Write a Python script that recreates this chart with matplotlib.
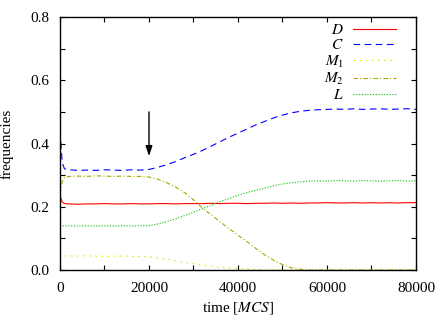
import numpy as np
import matplotlib
matplotlib.use('Agg')
import matplotlib.pyplot as plt
from matplotlib.ticker import MultipleLocator, FormatStrFormatter

plt.rcParams['font.family'] = ['Liberation Serif', 'DejaVu Serif']
plt.rcParams['mathtext.fontset'] = 'stix'
plt.rcParams['font.size'] = 11

# time in MCS
t = [0, 500, 1000, 2000, 4000, 6000, 8000, 10000, 12000, 14000, 16000, 18000,
     20000, 22000, 24000, 26000, 28000, 30000, 32000, 34000, 36000, 38000,
     40000, 42000, 44000, 46000, 48000, 50000, 52000, 54000, 56000, 58000,
     60000, 62000, 64000, 66000, 68000, 70000, 72000, 74000, 76000, 78000, 80000]

D = [0.235, 0.215, 0.210, 0.209, 0.208, 0.209, 0.209, 0.210, 0.209, 0.209, 0.210, 0.209,
     0.209, 0.210, 0.210, 0.209, 0.210, 0.210, 0.210, 0.211, 0.210, 0.211,
     0.211, 0.210, 0.211, 0.211, 0.212, 0.211, 0.212, 0.211, 0.212, 0.212,
     0.213, 0.212, 0.212, 0.213, 0.212, 0.213, 0.212, 0.213, 0.212, 0.213, 0.213]

C = [0.440, 0.340, 0.320, 0.317, 0.315, 0.316, 0.315, 0.317, 0.316, 0.315, 0.317, 0.316,
     0.318, 0.325, 0.333, 0.343, 0.355, 0.366, 0.378, 0.392, 0.406, 0.420,
     0.433, 0.446, 0.459, 0.470, 0.481, 0.490, 0.497, 0.502, 0.505, 0.507,
     0.508, 0.509, 0.508, 0.510, 0.508, 0.509, 0.510, 0.508, 0.509, 0.510, 0.508]

M1 = [0.055, 0.047, 0.045, 0.044, 0.044, 0.045, 0.044, 0.043, 0.044, 0.044, 0.043, 0.043,
      0.042, 0.038, 0.034, 0.029, 0.024, 0.020, 0.016, 0.012, 0.009, 0.007,
      0.005, 0.003, 0.002, 0.001, 0.0, 0.0, 0.0, 0.0, 0.0, 0.0,
      0.0, 0.0, 0.0, 0.0, 0.0, 0.0, 0.0, 0.0, 0.0, 0.0, 0.0]

M2 = [0.240, 0.280, 0.293, 0.296, 0.297, 0.296, 0.298, 0.297, 0.296, 0.297, 0.296, 0.296,
      0.294, 0.287, 0.276, 0.262, 0.245, 0.222, 0.196, 0.174, 0.152, 0.131,
      0.110, 0.090, 0.068, 0.048, 0.031, 0.017, 0.007, 0.002, 0.0, 0.0,
      0.0, 0.0, 0.0, 0.0, 0.0, 0.0, 0.0, 0.0, 0.0, 0.0, 0.0]

L = [0.140, 0.140, 0.139, 0.140, 0.139, 0.140, 0.139, 0.140, 0.139, 0.140, 0.139, 0.140,
     0.140, 0.146, 0.153, 0.162, 0.172, 0.183, 0.194, 0.205, 0.216, 0.226,
     0.236, 0.245, 0.252, 0.259, 0.266, 0.272, 0.276, 0.279, 0.281, 0.282,
     0.281, 0.283, 0.282, 0.281, 0.283, 0.282, 0.281, 0.282, 0.283, 0.281, 0.282]

fig = plt.figure(figsize=(4.36, 3.22), dpi=100)
ax = fig.add_axes([0.1376, 0.1615, 0.8165, 0.7855])

ax.plot(t, D, color='#ff0000', lw=0.8, label='$D$')
ax.plot(t, C, color='#0000ff', lw=0.8, dashes=(6, 4), label='$C$')
ax.plot(t, M1, color='#e8e800', lw=0.8, dashes=(1.5, 4), label='$M_1$')
ax.plot(t, M2, color='#a8a800', lw=0.8, dashes=(4, 2, 1, 2), label='$M_2$')
ax.plot(t, L, color='#00c000', lw=0.8, dashes=(1, 1.5), label='$L$')

ax.annotate('', xy=(20000, 0.36), xytext=(20000, 0.5),
            arrowprops=dict(arrowstyle='-|>,head_width=0.2,head_length=0.6',
                            color='black', lw=1.0,
                            mutation_scale=10, shrinkA=0, shrinkB=0))

ax.set_xlim(0, 80000)
ax.set_ylim(0, 0.8)
ax.xaxis.set_major_locator(MultipleLocator(20000))
ax.xaxis.set_minor_locator(MultipleLocator(10000))
ax.yaxis.set_major_locator(MultipleLocator(0.2))
ax.yaxis.set_minor_locator(MultipleLocator(0.1))
ax.yaxis.set_major_formatter(FormatStrFormatter('%.1f'))
ax.tick_params(which='both', direction='in', top=True, right=True, length=3.5, width=0.8)
ax.tick_params(axis='x', pad=9)
ax.tick_params(axis='y', pad=8)
for s in ax.spines.values():
    s.set_linewidth(1.0)

ax.set_xlabel('time [$MCS$]', labelpad=3)
ax.set_ylabel('frequencies', labelpad=12)

ax.legend(loc='upper right', frameon=False, markerfirst=False, handlelength=2.8,
          labelspacing=0.08, borderaxespad=0.2, handletextpad=0.6,
          bbox_to_anchor=(0.969, 1.012))

fig.savefig('out.png', dpi=100)
